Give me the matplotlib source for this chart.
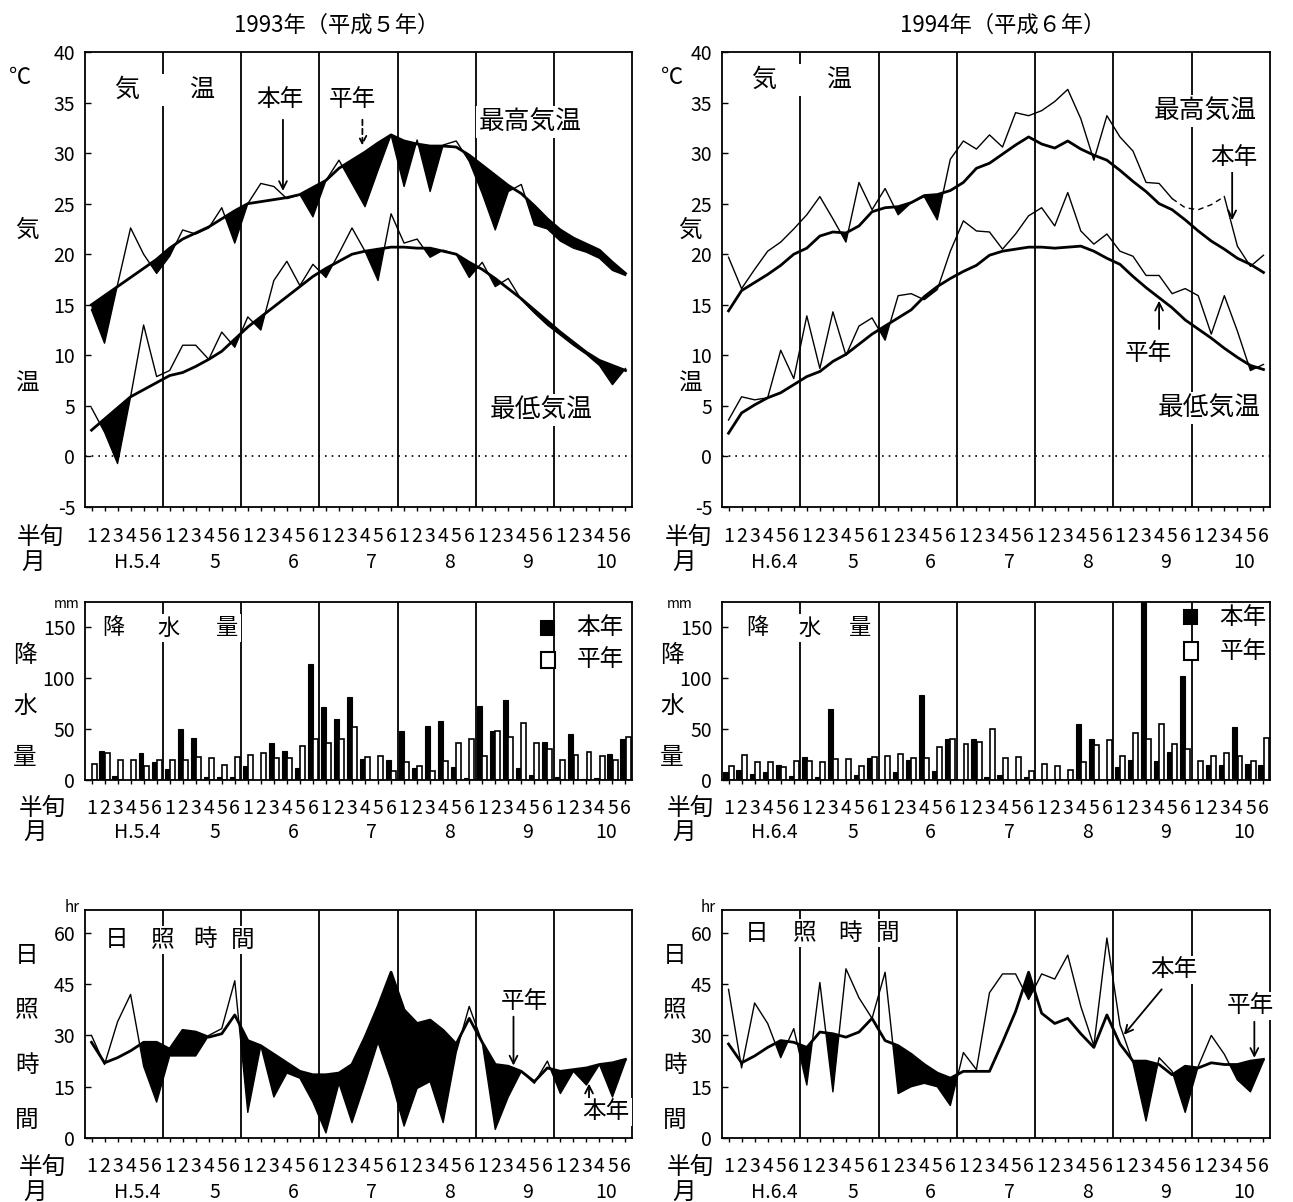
import numpy as np
import matplotlib
matplotlib.use("Agg")
import matplotlib.pyplot as plt
import matplotlib.transforms as mtransforms
from matplotlib.patches import Rectangle

plt.rcParams['font.family'] = ['Noto Sans CJK JP', 'DejaVu Sans']
plt.rcParams['axes.unicode_minus'] = False

W, H = 1293, 1202

# pentads (半旬) from April to October
pentads = np.arange(1, 43)
pentad_labels = list("123456") * 7
months_1993 = ["H.5.4", "5", "6", "7", "8", "9", "10"]
months_1994 = ["H.6.4", "5", "6", "7", "8", "9", "10"]
month_pos = np.arange(4.5, 42, 6)
dividers = np.arange(6.5, 42, 6)

# --- 1993 temperature (本年 / 平年) ---
tmax_1993 = np.array([14.5, 11.2, 17.0, 22.6, 20.0, 18.1, 19.8, 22.4, 22.0, 22.6, 24.6, 21.1, 25.0, 27.0,
                      26.7, 25.5, 25.9, 23.7, 27.3, 29.3, 27.0, 24.7, 28.3, 31.8, 26.7, 31.3, 26.2, 30.8,
                      31.2, 29.2, 26.0, 22.4, 26.2, 26.9, 22.9, 22.5, 21.3, 20.6, 20.2, 19.6, 18.4, 17.9])
tmax_norm_1993 = np.array([15.0, 15.9, 16.8, 17.7, 18.6, 19.5, 20.6, 21.5, 22.1, 22.7, 23.5, 24.3, 25.0, 25.2,
                           25.4, 25.6, 25.9, 26.6, 27.3, 28.5, 29.3, 30.1, 31.0, 31.8, 31.2, 30.9, 30.7, 30.7,
                           30.6, 29.8, 28.8, 27.8, 26.8, 26.0, 24.8, 23.5, 22.4, 21.6, 21.0, 20.4, 19.2, 18.1])
tmin_1993 = np.array([4.8, 2.4, -0.7, 5.9, 13.0, 7.9, 8.5, 11.0, 11.0, 9.6, 12.3, 10.8, 13.8, 12.5,
                      17.4, 19.3, 16.9, 19.0, 17.7, 20.1, 22.6, 20.3, 17.4, 24.0, 21.1, 21.5, 19.7, 20.4,
                      20.0, 17.7, 19.2, 16.8, 17.6, 15.5, 14.2, 13.0, 12.0, 11.0, 10.1, 9.0, 7.1, 8.7])
tmin_norm_1993 = np.array([2.6, 3.7, 4.8, 5.9, 6.6, 7.3, 8.0, 8.3, 8.9, 9.6, 10.4, 11.6, 12.8, 13.8,
                           14.8, 15.8, 16.8, 17.8, 18.6, 19.3, 20.0, 20.3, 20.5, 20.7, 20.7, 20.6, 20.6, 20.3,
                           20.0, 19.2, 18.5, 17.6, 16.6, 15.6, 14.5, 13.4, 12.3, 11.3, 10.3, 9.5, 9.0, 8.5])

# --- 1994 temperature ---
tmax_1994 = np.array([19.7, 16.6, 18.5, 20.3, 21.2, 22.5, 23.9, 25.7, 23.5, 21.2, 27.1, 24.4, 26.5, 23.9,
                      25.1, 25.7, 23.4, 29.4, 31.2, 30.4, 31.8, 30.6, 34.0, 33.7, 34.2, 35.1, 36.3, 33.4,
                      29.3, 33.7, 31.6, 30.2, 27.1, 27.0, 25.5, 24.6, 24.4, 24.9, 25.7, 20.8, 18.8, 19.9])
tmax_norm_1994 = np.array([14.4, 16.4, 17.2, 18.0, 18.9, 20.0, 20.6, 21.8, 22.2, 22.1, 22.8, 24.2, 24.6, 24.7,
                           25.1, 25.8, 25.9, 26.3, 27.1, 28.5, 29.0, 29.9, 30.8, 31.6, 30.9, 30.5, 31.2, 30.4,
                           29.8, 29.3, 28.3, 27.2, 26.2, 25.0, 24.4, 23.4, 22.3, 21.3, 20.5, 19.6, 19.0, 18.2])
tmin_1994 = np.array([3.6, 5.9, 5.6, 5.8, 10.5, 7.7, 13.9, 8.7, 14.3, 10.0, 12.9, 13.7, 11.5, 15.9,
                      16.1, 15.5, 16.5, 20.3, 23.3, 22.3, 22.2, 20.5, 22.0, 23.8, 24.6, 22.8, 26.1, 22.3,
                      21.0, 22.0, 20.3, 19.8, 17.9, 17.9, 16.1, 16.6, 15.9, 12.1, 15.9, 12.4, 8.5, 9.1])
tmin_norm_1994 = np.array([2.3, 4.3, 5.1, 5.8, 6.3, 7.1, 7.9, 8.4, 9.4, 10.1, 11.1, 12.1, 12.9, 13.7,
                           14.5, 15.8, 16.8, 17.6, 18.3, 18.9, 19.9, 20.3, 20.5, 20.7, 20.7, 20.6, 20.7, 20.8,
                           20.3, 19.6, 19.0, 17.8, 16.7, 15.7, 14.7, 13.5, 12.6, 11.7, 10.7, 9.8, 9.0, 8.6])

# --- precipitation (mm) ---
rain_1993 = np.array([0, 28.8, 4, 0, 27, 18, 11, 50, 41, 2.6, 2.6, 2.6, 13.4, 0,
                      36, 28.8, 11.4, 114, 72, 60, 82, 21, 0, 20, 48, 11.5, 53, 58,
                      12.5, 2, 73, 48, 78.5, 11.5, 5, 37, 2.6, 45.5, 1, 1.6, 26, 40.5])
rain_norm_1993 = np.array([15.7, 26.5, 20, 20, 14, 20, 20, 19.6, 23, 21.6, 15, 23, 24.8, 26.5,
                           21.6, 21.6, 33, 40, 36, 40, 52, 22.5, 24, 9, 17.5, 14, 9, 19,
                           36, 40.5, 24, 48, 42, 56, 36, 30, 20, 25, 28, 24, 20, 42])
rain_1994 = np.array([8, 10, 6, 8, 15, 4, 23, 3, 70, 0, 5, 22, 0, 8,
                      20, 84, 9, 40, 0, 40, 3, 5, 0, 3, 0, 0, 0, 55,
                      40.5, 0, 13, 20, 190, 18.6, 28, 102, 0, 15, 15, 52, 16, 15])
rain_norm_1994 = np.array([13.7, 24.5, 18, 18, 13, 18.6, 18.6, 17.6, 21, 21, 14, 22.5, 23.5, 26,
                           21.6, 21.6, 32, 40, 35.6, 37.6, 50.6, 22, 23, 9, 16, 14, 9.5, 18,
                           34, 39, 23.5, 46, 40, 54.6, 35, 30, 19, 23.5, 27, 23.5, 18.6, 41.5])

# --- sunshine duration (hr) ---
sun_1993 = np.array([30, 21.5, 34, 42, 21, 10.5, 24, 24, 24, 30, 32, 46, 7.5, 27,
                     12, 19, 17.5, 10.5, 1.5, 16, 4.5, 16, 28, 17, 3.5, 14.5, 16.5, 4.5,
                     25, 38.5, 28, 2.5, 12, 19.5, 16, 22.5, 13, 19.5, 15.5, 21.5, 12, 22.5])
sun_norm_1993 = np.array([28, 22, 23.5, 25.5, 28, 28, 26, 31.5, 31, 29.5, 30.5, 36, 28.5, 27,
                          24.5, 22, 19.5, 18.5, 18.5, 19, 21.5, 29.5, 38.5, 48.5, 37.5, 33.5, 34.5, 31.5,
                          27.5, 35, 28, 21.5, 21, 19.5, 16.5, 20.5, 19.5, 20, 20.5, 21.5, 22, 23])
sun_1994 = np.array([43.5, 20.5, 39.5, 33.5, 23.5, 32, 15.5, 45.5, 13.5, 49.5, 41, 35, 48.5, 13,
                     15, 16, 15, 9.5, 25, 20, 42.5, 48, 48, 40.5, 48, 46.5, 53.5, 38.5,
                     27, 58.5, 33, 22, 5, 23.5, 19.5, 7.5, 21, 30, 24.5, 17, 13.5, 22.5])
sun_norm_1994 = np.array([27.5, 22, 24, 26.5, 28.5, 28, 26.5, 31, 30.5, 29.5, 31, 35, 28.5, 27,
                          24.5, 21.5, 19, 17.5, 19.5, 19.5, 19.5, 28, 37, 48.5, 36.5, 33.5, 35, 30.5,
                          26.5, 36, 27.5, 22.5, 22.5, 21.5, 18.5, 21, 20.5, 22, 21.5, 21.5, 22.5, 23])

fig = plt.figure(figsize=(W / 100, H / 100), dpi=100)


def add_ax(x0, y0, x1, y1):
    return fig.add_axes([x0 / W, 1 - y1 / H, (x1 - x0) / W, (y1 - y0) / H])


def ftext(x, y, s, size=17, box=False, **kw):
    kw.setdefault('ha', 'center')
    kw.setdefault('va', 'center')
    if box:
        kw['bbox'] = dict(facecolor='white', edgecolor='none', pad=2)
    return fig.text(x / W, 1 - y / H, s, fontsize=size, zorder=5, **kw)


def square(x0, y0, x1, y1, fc):
    fig.add_artist(Rectangle((x0 / W, 1 - y1 / H), (x1 - x0) / W, (y1 - y0) / H,
                             transform=fig.transFigure, facecolor=fc, edgecolor='black', lw=1.5))


def frame(ax, ylim, yticks):
    ax.set_xlim(0.5, 42.5)
    ax.set_ylim(*ylim)
    ax.set_yticks(yticks)
    ax.set_xticks(pentads)
    ax.tick_params(axis='x', direction='out', length=3, width=1, labelbottom=False)
    ax.tick_params(axis='y', direction='in', length=4, width=1, labelsize=14, pad=7)
    for s in ax.spines.values():
        s.set_linewidth(1.3)
    for d in dividers:
        ax.axvline(d, color='black', lw=1.3, zorder=1)


def x_rows(ax, y_digits, y_months, months, x_han, x_tsuki):
    trans = mtransforms.blended_transform_factory(ax.transData, fig.transFigure)
    for p, d in zip(pentads, pentad_labels):
        ax.text(p, 1 - y_digits / H, d, transform=trans, ha='center', va='center', fontsize=14)
    for m, lab in zip(month_pos, months):
        ax.text(m, 1 - y_months / H, lab, transform=trans, ha='center', va='center', fontsize=14)
    ftext(x_han, y_digits, "半旬")
    ftext(x_tsuki, y_months, "月")


def shaded(ax, this, norm, dashed=None):
    ax.fill_between(pentads, this, norm, where=this < norm, interpolate=True,
                    color='black', lw=0, zorder=2)
    ax.plot(pentads, norm, color='black', lw=2.0, zorder=3)
    if dashed is None:
        ax.plot(pentads, this, color='black', lw=1.0, zorder=3)
    else:
        a, b = dashed
        ax.plot(pentads[:a + 1], this[:a + 1], color='black', lw=1.0, zorder=3)
        ax.plot(pentads[a:b + 1], this[a:b + 1], color='black', lw=1.0, ls=(0, (4, 3)), zorder=3)
        ax.plot(pentads[b:], this[b:], color='black', lw=1.0, zorder=3)


def arrow(ax, tip, tail, dashed=False):
    props = dict(arrowstyle='->', lw=1.3, color='black', shrinkA=0, shrinkB=0, mutation_scale=14)
    if dashed:
        props['linestyle'] = (0, (3, 2))
    ax.annotate('', xy=tip, xytext=tail, arrowprops=props, zorder=6)


cols = [
    dict(x0=85, x1=632, year="1993年（平成５年）", tx=337, months=months_1993,
         tmax=tmax_1993, tmaxn=tmax_norm_1993, tmin=tmin_1993, tminn=tmin_norm_1993,
         rain=rain_1993, rainn=rain_norm_1993, sun=sun_1993, sunn=sun_norm_1993),
    dict(x0=722, x1=1270, year="1994年（平成６年）", tx=1003, months=months_1994,
         tmax=tmax_1994, tmaxn=tmax_norm_1994, tmin=tmin_1994, tminn=tmin_norm_1994,
         rain=rain_1994, rainn=rain_norm_1994, sun=sun_1994, sunn=sun_norm_1994),
]

axes = []
for k, c in enumerate(cols):
    x0, x1 = c['x0'], c['x1']
    ftext(c['tx'], 25, c['year'], size=16)

    # temperature
    ax = add_ax(x0, 52, x1, 507)
    frame(ax, (-5, 40), np.arange(-5, 41, 5))
    ax.axhline(0, color='black', lw=1.2, ls=(0, (1, 3)), zorder=1)
    shaded(ax, c['tmax'], c['tmaxn'], dashed=(34, 38) if k == 1 else None)
    shaded(ax, c['tmin'], c['tminn'])
    x_rows(ax, 537, 562, c['months'], 40 if k == 0 else 688, 33 if k == 0 else 684)
    axes.append(ax)

    # precipitation
    ax2 = add_ax(x0, 602, x1, 780)
    frame(ax2, (0, 175), [0, 50, 100, 150])
    ax2.bar(pentads - 0.2, c['rain'], width=0.38, color='black', edgecolor='black', lw=0.8, zorder=2)
    ax2.bar(pentads + 0.2, c['rainn'], width=0.38, color='white', edgecolor='black', lw=1.2, zorder=2)
    x_rows(ax2, 808, 832, c['months'], 42 if k == 0 else 690, 35 if k == 0 else 684)
    axes.append(ax2)

    # sunshine
    ax3 = add_ax(x0, 910, x1, 1138)
    frame(ax3, (0, 66.7), [0, 15, 30, 45, 60])
    shaded(ax3, c['sun'], c['sunn'])
    x_rows(ax3, 1167, 1192, c['months'], 42 if k == 0 else 690, 35 if k == 0 else 684)
    axes.append(ax3)

    # y-axis captions
    yl = 27 if k == 0 else 690
    ftext(20 if k == 0 else 672, 78, "℃", size=16)
    ftext(yl, 230, "気")
    ftext(yl, 384, "温")
    ftext(67 if k == 0 else 680, 604, "mm", size=10)
    for ch, yy in zip("降水量", [655, 706, 757]):
        ftext(25 if k == 0 else 672, yy, ch)
    ftext(72 if k == 0 else 708, 908, "hr", size=11)
    for ch, yy in zip("日照時間", [956, 1010, 1065, 1120]):
        ftext(27 if k == 0 else 675, yy, ch)

ax_t93, ax_r93, ax_s93, ax_t94, ax_r94, ax_s94 = axes

# --- labels inside the 1993 panels ---
ftext(165, 90, "気　　温", size=18, box=True)
ftext(280, 100, "本年", size=17, box=True)
ftext(352, 100, "平年", size=17, box=True)
ftext(530, 122, "最高気温", size=18.5, box=True)
ftext(541, 410, "最低気温", size=18.5, box=True)
arrow(ax_t93, (15.7, np.interp(15.7, pentads, tmax_1993) + 0.4), (15.7, 33.3))
arrow(ax_t93, (21.8, np.interp(21.8, pentads, tmax_norm_1993) + 0.8), (21.8, 33.3), dashed=True)

for ch, xx in zip("降水量", [113, 169, 227]):
    ftext(xx, 628, ch, size=16, box=True)
square(541, 621, 554, 635, 'black')
ftext(600, 628, "本年", size=17)
square(541, 652, 555, 668, 'white')
ftext(600, 660, "平年", size=17)

for ch, xx in zip("日照時間", [117, 163, 205, 243]):
    ftext(xx, 940, ch, size=17, box=True)
ftext(524, 1001, "平年", size=17, box=True)
ftext(606, 1112, "本年", size=17, box=True)
arrow(ax_s93, (33.4, np.interp(33.4, pentads, sun_norm_1993) + 0.8), (33.4, 35.5))
arrow(ax_s93, (39.2, np.interp(39.2, pentads, sun_1993) - 0.8), (39.2, 11.0))

# --- labels inside the 1994 panels ---
ftext(802, 80, "気　　温", size=18, box=True)
ftext(1205, 111, "最高気温", size=18.5, box=True)
ftext(1234, 158, "本年", size=17, box=True)
ftext(1148, 353, "平年", size=17, box=True)
ftext(1209, 408, "最低気温", size=18.5, box=True)
arrow(ax_t94, (39.6, np.interp(39.6, pentads, tmax_1994) + 0.6), (39.6, 28.2))
arrow(ax_t94, (34.0, np.interp(34.0, pentads, tmin_norm_1994) - 0.3), (34.0, 12.6))

for ch, xx in zip("降水量", [757, 810, 860]):
    ftext(xx, 628, ch, size=16, box=True)
square(1184, 610, 1197, 624, 'black')
ftext(1243, 617, "本年", size=17)
square(1184, 642, 1198, 660, 'white')
ftext(1243, 651, "平年", size=17)

for ch, xx in zip("日照時間", [757, 805, 850, 888]):
    ftext(xx, 933, ch, size=17, box=True)
ftext(1174, 970, "本年", size=17, box=True)
ftext(1250, 1006, "平年", size=17, box=True)
arrow(ax_s94, (31.3, np.interp(31.3, pentads, sun_1994) + 0.5), (34.2, 43.5))
arrow(ax_s94, (41.3, np.interp(41.3, pentads, sun_norm_1994) + 0.8), (41.3, 34.0))

fig.savefig("out.png", dpi=100, facecolor='white')
